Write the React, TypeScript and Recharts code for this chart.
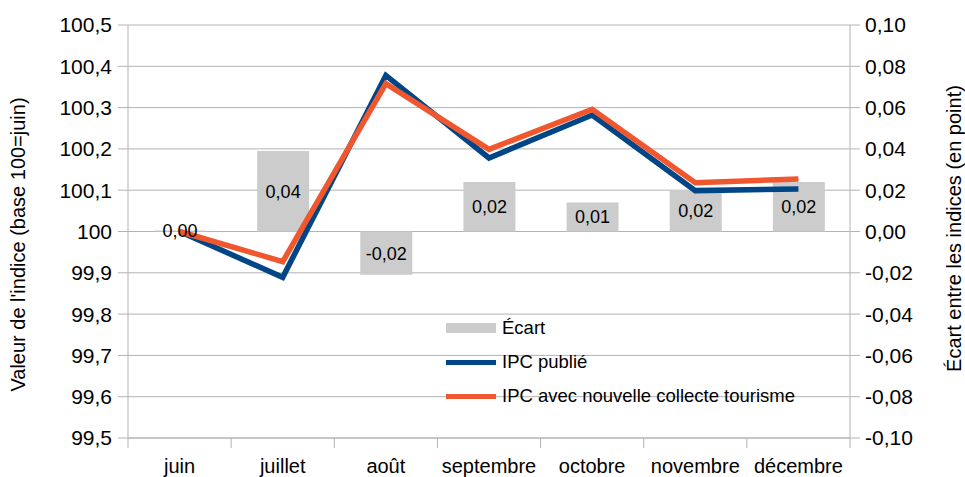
import React from 'react';
import { ComposedChart, Bar, Line, XAxis, YAxis, CartesianGrid, Legend, LabelList, Label } from 'recharts';

const months = ['juin', 'juillet', 'août', 'septembre', 'octobre', 'novembre', 'décembre'];
const ipcPublie = [100, 99.889, 100.378, 100.178, 100.282, 100.099, 100.103];
const ipcTourisme = [100, 99.927, 100.358, 100.199, 100.296, 100.118, 100.127];
const ecart = [0, 0.039, -0.021, 0.024, 0.014, 0.02, 0.024];
const leftTicks = [99.5, 99.6, 99.7, 99.8, 99.9, 100, 100.1, 100.2, 100.3, 100.4, 100.5];
const rightTicks = [-0.1, -0.08, -0.06, -0.04, -0.02, 0, 0.02, 0.04, 0.06, 0.08, 0.1];

const W = 965;
const H = 477;
const LEFT_W = 128;
const RIGHT_W = 115;
const BAND = (W - LEFT_W - RIGHT_W) / months.length;
const GRID = '#b3b3b3';
const BLUE = '#004586';
const ORANGE = '#f0572f';
const GREY = '#cccccc';
const FONT = '"Liberation Sans", Arial, sans-serif';

const data = months.map((m, i) => ({
  month: m,
  ecart: ecart[i],
  publie: ipcPublie[i],
  tourisme: ipcTourisme[i],
}));

const legendItems = [
  { name: 'Écart', color: GREY, thick: 10 },
  { name: 'IPC publié', color: BLUE, thick: 5 },
  { name: 'IPC avec nouvelle collecte tourisme', color: ORANGE, thick: 5 },
];

const comma = (s: string) => s.replace('.', ',');

function XTick(props: any) {
  const { x, y, payload, index } = props;
  const half = BAND / 2;
  return (
    <g>
      <line x1={x - half} x2={x - half} y1={y - 10} y2={y} stroke={GRID} />
      {index === months.length - 1 && <line x1={x + half} x2={x + half} y1={y - 10} y2={y} stroke={GRID} />}
      <text x={x} y={y} dy={25} textAnchor="middle" fontSize={20} fill="#000" fontFamily={FONT}>
        {payload.value}
      </text>
    </g>
  );
}

function LegendBox() {
  return (
    <div style={{ fontFamily: FONT, fontSize: 18.5, color: '#000' }}>
      {legendItems.map(it => (
        <div key={it.name} style={{ display: 'flex', alignItems: 'center', height: 34 }}>
          <div style={{ width: 50, height: it.thick, background: it.color, marginRight: 6 }} />
          <span>{it.name}</span>
        </div>
      ))}
    </div>
  );
}

export default function App() {
  return (
    <div style={{ position: 'absolute', left: 0, top: 0, width: W, height: H, background: '#fff' }}>
      <ComposedChart
        width={W}
        height={H}
        data={data}
        margin={{ top: 25, right: 0, bottom: 0, left: 0 }}
        style={{ fontFamily: FONT }}
      >
        <CartesianGrid yAxisId="left" vertical={false} stroke={GRID} />
        <XAxis
          dataKey="month"
          height={39}
          tickSize={10}
          tickMargin={0}
          tickLine={false}
          axisLine={{ stroke: GRID }}
          tick={<XTick />}
          interval={0}
        />
        <YAxis
          yAxisId="left"
          width={LEFT_W}
          domain={[99.5, 100.5]}
          ticks={leftTicks}
          tickFormatter={(v: number) => comma(String(v))}
          tickSize={10}
          tickMargin={6}
          tick={{ fontSize: 21, fill: '#000' }}
          stroke={GRID}
          axisLine={{ stroke: GRID }}
          tickLine={{ stroke: GRID }}
          interval={0}
          allowDataOverflow
        >
          <Label
            value="Valeur de l'indice (base 100=juin)"
            angle={-90}
            position="center"
            dx={-46}
            dy={13}
            style={{ fontSize: 20, fill: '#000', textAnchor: 'middle' }}
          />
        </YAxis>
        <YAxis
          yAxisId="right"
          orientation="right"
          width={RIGHT_W}
          domain={[-0.1, 0.1]}
          ticks={rightTicks}
          tickFormatter={(v: number) => comma(v.toFixed(2))}
          tickSize={10}
          tickMargin={5}
          tick={{ fontSize: 21, fill: '#000' }}
          axisLine={{ stroke: GRID }}
          tickLine={{ stroke: GRID }}
          interval={0}
          allowDataOverflow
        >
          <Label
            value="Écart entre les indices (en point)"
            angle={-90}
            position="center"
            dx={46}
            dy={-3}
            style={{ fontSize: 20, fill: '#000', textAnchor: 'middle' }}
          />
        </YAxis>
        <Legend
          layout="vertical"
          align="center"
          verticalAlign="middle"
          content={<LegendBox />}
          wrapperStyle={{ left: 446, top: 311, width: 'auto' }}
        />
        <Bar
          yAxisId="right"
          dataKey="ecart"
          name="Écart"
          fill={GREY}
          barSize={52}
          minPointSize={1}
          isAnimationActive={false}
        >
          <LabelList
            dataKey="ecart"
            position="center"
            formatter={(v: any) => comma(Number(v).toFixed(2))}
            style={{ fontSize: 18, fill: '#000', fontFamily: FONT }}
          />
        </Bar>
        <Line
          yAxisId="left"
          dataKey="publie"
          name="IPC publié"
          stroke={BLUE}
          strokeWidth={5.5}
          dot={false}
          type="linear"
          isAnimationActive={false}
        />
        <Line
          yAxisId="left"
          dataKey="tourisme"
          name="IPC avec nouvelle collecte tourisme"
          stroke={ORANGE}
          strokeWidth={5.5}
          dot={false}
          type="linear"
          isAnimationActive={false}
        />
      </ComposedChart>
    </div>
  );
}
